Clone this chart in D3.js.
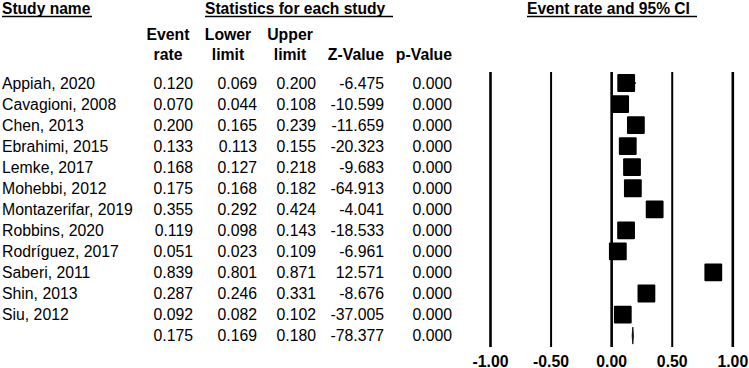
<!DOCTYPE html>
<html>
<head>
<meta charset="utf-8">
<script src="https://cdn.jsdelivr.net/npm/d3@7"></script>
<style>
html,body{margin:0;padding:0;background:#fff;}
svg{display:block;font-family:"Liberation Sans",Arial,sans-serif;}
</style>
</head>
<body>
<svg id="chart" width="749" height="368"></svg>
<script>
const studies = ["Appiah, 2020","Cavagioni, 2008","Chen, 2013","Ebrahimi, 2015","Lemke, 2017","Mohebbi, 2012","Montazerifar, 2019","Robbins, 2020","Rodríguez, 2017","Saberi, 2011","Shin, 2013","Siu, 2012",""];
const eventRate = [0.120,0.070,0.200,0.133,0.168,0.175,0.355,0.119,0.051,0.839,0.287,0.092,0.175];
const lowerLimit = [0.069,0.044,0.165,0.113,0.127,0.168,0.292,0.098,0.023,0.801,0.246,0.082,0.169];
const upperLimit = [0.200,0.108,0.239,0.155,0.218,0.182,0.424,0.143,0.109,0.871,0.331,0.102,0.180];
const zValue = ["-6.475","-10.599","-11.659","-20.323","-9.683","-64.913","-4.041","-18.533","-6.961","12.571","-8.676","-37.005","-78.377"];
const pValue = ["0.000","0.000","0.000","0.000","0.000","0.000","0.000","0.000","0.000","0.000","0.000","0.000","0.000"];
const tickValues = [-1.00,-0.50,0.00,0.50,1.00];
const tickLabels = ["-1.00","-0.50","0.00","0.50","1.00"];

const svg = d3.select("#chart");
const nRows = studies.length;
const x = d3.scaleLinear().domain([-1,1]).range([490.5,732.8]);
const y = d3.scaleLinear().domain([0,nRows-1]).range([83,335.6]);
const fs = "15.8px";

// Top headers with underlines
function header(txt, x0, x1){
  svg.append("text").attr("x",x0).attr("y",14).attr("font-size","15.6px").attr("font-weight","bold").text(txt);
  svg.append("line").attr("x1",x0).attr("x2",x1).attr("y1",16.5).attr("y2",16.5).attr("stroke","#000").attr("stroke-width",1.6);
}
header("Study name",2,92);
header("Statistics for each study",205,393);
header("Event rate and 95% CI",527,697);

// column headers
const colHeads = [
  {l1:"Event",l2:"rate",cx:168},
  {l1:"Lower",l2:"limit",cx:228},
  {l1:"Upper",l2:"limit",cx:290}
];
colHeads.forEach(c=>{
  svg.append("text").attr("x",c.cx).attr("y",40).attr("text-anchor","middle").attr("font-size",fs).attr("font-weight","bold").text(c.l1);
  svg.append("text").attr("x",c.cx).attr("y",59.5).attr("text-anchor","middle").attr("font-size",fs).attr("font-weight","bold").text(c.l2);
});
svg.append("text").attr("x",384).attr("y",59.5).attr("text-anchor","end").attr("font-size",fs).attr("font-weight","bold").text("Z-Value");
svg.append("text").attr("x",452).attr("y",59.5).attr("text-anchor","end").attr("font-size",fs).attr("font-weight","bold").text("p-Value");

// table rows
const rows = svg.append("g").selectAll("g").data(d3.range(nRows)).join("g");
rows.append("text").attr("x",2).attr("y",i=>y(i)+5.6).attr("font-size",fs).text(i=>studies[i]);
rows.append("text").attr("x",193).attr("y",i=>y(i)+5.6).attr("text-anchor","end").attr("font-size",fs).text(i=>eventRate[i].toFixed(3));
rows.append("text").attr("x",257).attr("y",i=>y(i)+5.6).attr("text-anchor","end").attr("font-size",fs).text(i=>lowerLimit[i].toFixed(3));
rows.append("text").attr("x",316).attr("y",i=>y(i)+5.6).attr("text-anchor","end").attr("font-size",fs).text(i=>upperLimit[i].toFixed(3));
rows.append("text").attr("x",384).attr("y",i=>y(i)+5.6).attr("text-anchor","end").attr("font-size",fs).text(i=>zValue[i]);
rows.append("text").attr("x",452).attr("y",i=>y(i)+5.6).attr("text-anchor","end").attr("font-size",fs).text(i=>pValue[i]);

// vertical grid lines
svg.append("g").selectAll("line").data(tickValues).join("line")
  .attr("x1",d=>x(d)).attr("x2",d=>x(d))
  .attr("y1",72).attr("y2",347)
  .attr("stroke","#000")
  .attr("stroke-width",d=>Math.abs(d)===0.5?2:2.6);

// tick labels
svg.append("g").selectAll("text").data(tickValues).join("text")
  .attr("x",d=>x(d)).attr("y",366.5).attr("text-anchor","middle")
  .attr("font-size",fs).attr("font-weight","bold")
  .text((d,i)=>tickLabels[i]);

// CI lines and squares for studies
const study = d3.range(nRows-1);
const sq = 17.8;
svg.append("g").selectAll("line").data(study).join("line")
  .attr("x1",i=>x(lowerLimit[i])).attr("x2",i=>x(upperLimit[i]))
  .attr("y1",i=>y(i)).attr("y2",i=>y(i))
  .attr("stroke","#000").attr("stroke-width",1.5);
svg.append("g").selectAll("rect").data(study).join("rect")
  .attr("x",i=>x(eventRate[i])-sq/2).attr("y",i=>y(i)-sq/2)
  .attr("width",sq).attr("height",sq).attr("rx",1)
  .attr("fill","#000");

// summary diamond
const s = nRows-1;
const dh = 8.5;
svg.append("path")
  .attr("d",`M${x(lowerLimit[s])},${y(s)} L${x(eventRate[s])},${y(s)-dh} L${x(upperLimit[s])},${y(s)} L${x(eventRate[s])},${y(s)+dh} Z`)
  .attr("fill","#000").attr("stroke","#000").attr("stroke-width",0.8);
</script>
</body>
</html>
